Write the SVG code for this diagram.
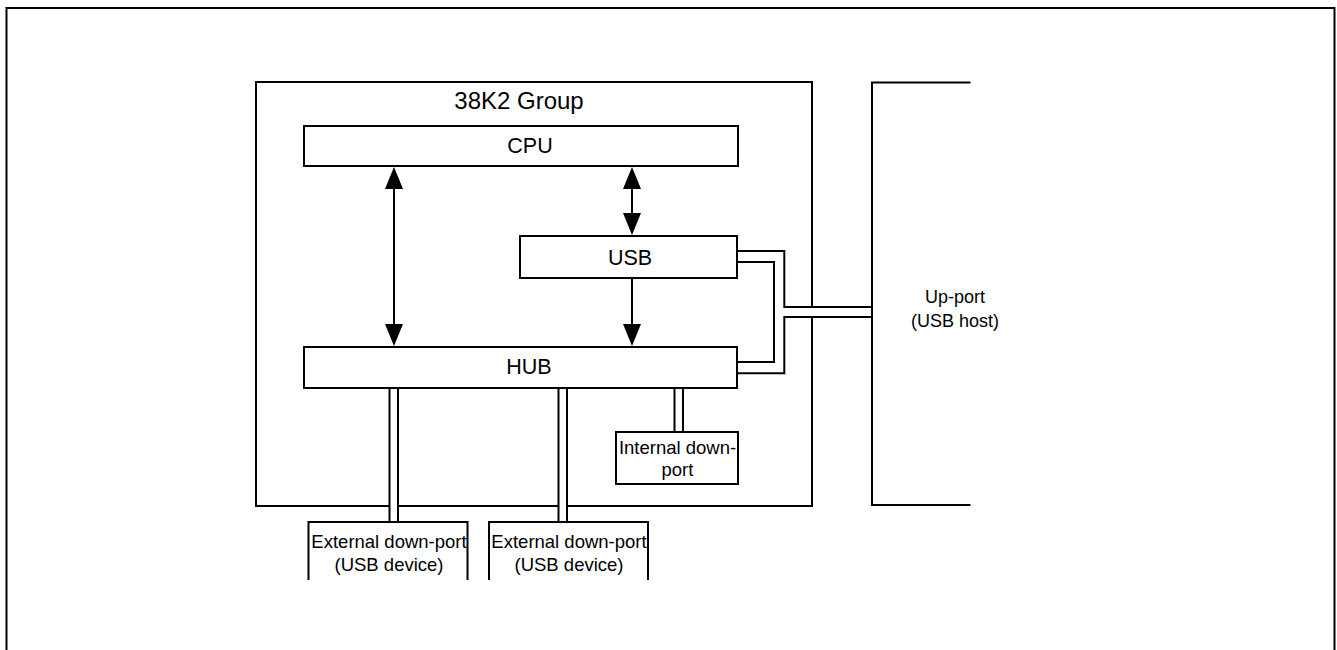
<svg xmlns="http://www.w3.org/2000/svg" width="1337" height="650" viewBox="0 0 1337 650">
<style>
.ln{fill:none;stroke:#000;stroke-width:2}
.box{fill:#fff;stroke:#000;stroke-width:2}
.t{font-family:"Liberation Sans",Arial,sans-serif;fill:#000;text-anchor:middle}
.big{font-size:21.5px}
.sm{font-size:18.5px}
</style>
<defs>
<marker id="ah" markerUnits="userSpaceOnUse" markerWidth="22" markerHeight="18" refX="0" refY="9" orient="auto-start-reverse" viewBox="0 0 22 18">
<path d="M0,0 L22,9 L0,18 Z" fill="#000"/>
</marker>
</defs>
<rect width="1337" height="650" fill="#fff"/>
<path class="ln" d="M6.5,660 V8 H1334.5 V660"/>

<g id="group38K2">
<rect class="box" x="256" y="82" width="556" height="424"/>
<text class="t" x="519" y="109" font-size="24">38K2 Group</text>
</g>

<g id="upport">
<path class="ln" d="M970.5,82.5 H872 V505 H970.5"/>
<text class="t" x="955" y="303" font-size="18">Up-port</text>
<text class="t" x="955" y="327" font-size="18">(USB host)</text>
</g>

<g id="connectors">
<line class="ln" x1="394" y1="189" x2="394" y2="324" marker-start="url(#ah)" marker-end="url(#ah)"/>
<line class="ln" x1="632" y1="189" x2="632" y2="213" marker-start="url(#ah)" marker-end="url(#ah)"/>
<line class="ln" x1="632" y1="278" x2="632" y2="324" marker-end="url(#ah)"/>
<rect x="783" y="308" width="88" height="8" fill="#fff"/>
<path class="ln" d="M737,251 H784.3 V307 H872"/>
<path class="ln" d="M872,317 H784.3 V373.3 H737"/>
<path class="ln" d="M737,262 H774 V362 H737"/>
<rect x="390" y="386" width="7" height="137" fill="#fff"/>
<path class="ln" d="M389.5,388 V522 M398,388 V522"/>
<rect x="559" y="386" width="7" height="137" fill="#fff"/>
<path class="ln" d="M558.5,388 V522 M567,388 V522"/>
<path class="ln" d="M674.5,388 V432 M683,388 V432"/>
</g>

<g id="cpu">
<rect class="box" x="304" y="126" width="434" height="40"/>
<text class="t big" x="530" y="153">CPU</text>
</g>

<g id="usb">
<rect class="box" x="520" y="236" width="217" height="42"/>
<text class="t big" x="630" y="265">USB</text>
</g>

<g id="hub">
<rect class="box" x="304" y="347" width="433" height="41"/>
<text class="t big" x="529" y="374">HUB</text>
</g>

<g id="internalDownport">
<rect class="box" x="616" y="432" width="122" height="52"/>
<text class="t sm" x="677.5" y="454">Internal down-</text>
<text class="t sm" x="677.5" y="476">port</text>
</g>

<g id="externalDownport1">
<path class="ln" d="M308.5,580 V522 H467.5 V580"/>
<text class="t sm" x="389" y="548">External down-port</text>
<text class="t sm" x="389" y="571">(USB device)</text>
</g>

<g id="externalDownport2">
<path class="ln" d="M489,580 V522 H648 V580"/>
<text class="t sm" x="569" y="548">External down-port</text>
<text class="t sm" x="569" y="571">(USB device)</text>
</g>
</svg>
